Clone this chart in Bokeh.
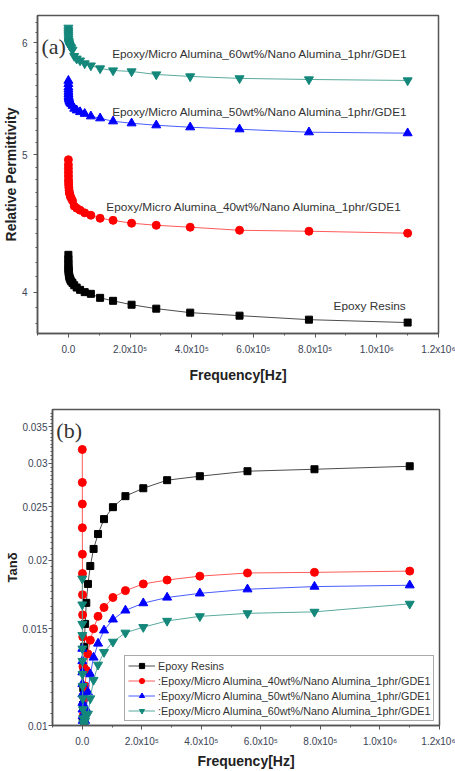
import math
from bokeh.plotting import figure
from bokeh.layouts import column
from bokeh.models import FixedTicker, Range1d, Label, Legend, LegendItem, Title
from bokeh.embed import file_html
from bokeh.resources import INLINE

NAN = float("nan")

# Measurement frequencies [Hz]
freq = [100, 150, 210, 300, 420, 600, 850, 1200, 1700, 2400, 3400, 4800, 6800, 9600,
        13500, 19000, 27000, 38000, 53000, 73000, 103000, 145000, 205000, 285000,
        395000, 555000, 780000, 1100000]

# Relative permittivity
perm_epoxy = [4.25, 4.22, 4.20, 4.18, 4.16, 4.15, 4.14, 4.13, 4.12, 4.11, 4.10, 4.09, 4.08, 4.07,
              4.06, 4.045, 4.03, 4.015, 4.00, 3.989, 3.963, 3.944, 3.919, 3.894,
              3.869, 3.850, 3.825, 3.807]
perm_40 = [4.96, 4.92, 4.89, 4.86, 4.83, 4.80, 4.78, 4.76, 4.74, 4.72, 4.70, 4.69, 4.67, 4.66,
           4.64, 4.60, 4.585, 4.57, 4.55, 4.532, 4.510, 4.495, 4.474, 4.459,
           4.445, 4.423, 4.416, 4.402]
perm_50 = [5.64, 5.61, 5.58, 5.56, 5.54, 5.52, 5.50, 5.49, 5.48, 5.47, 5.46, 5.45, 5.44, 5.43,
           5.415, 5.39, 5.375, 5.36, 5.345, 5.323, 5.306, 5.280, 5.263, 5.246,
           5.229, 5.212, 5.187, 5.179]
perm_60 = [6.146, 6.12, 6.10, 6.08, 6.06, 6.04, 6.02, 6.01, 6.00, 5.99, 5.98, 5.97, 5.96, 5.95,
           5.93, 5.87, 5.845, 5.827, 5.80, 5.78, 5.753, 5.734, 5.725, 5.697,
           5.679, 5.661, 5.651, 5.642]

# Dissipation factor (tan delta)
tan_epoxy = [NAN, NAN, NAN, NAN, NAN, NAN, NAN, NAN, 0.0103, 0.0109, 0.0117, 0.01269, 0.01391, 0.01531,
             0.01672, 0.0181, 0.01951, 0.02096, 0.02231, 0.02375, 0.02497, 0.02615, 0.02703, 0.02796,
             0.02843, 0.02903, 0.02927, 0.02964]
tan_40 = [0.0318, 0.0277, 0.0253, 0.0229, 0.0205, 0.0189, 0.0173, 0.0159, 0.0145, 0.0128, 0.0113, 0.0105, 0.0112, 0.0118,
          0.0126, 0.0135, 0.0143, 0.0150, 0.0158, 0.0164, 0.0171, 0.0176, 0.0181, 0.0184,
          0.0187, 0.01895, 0.0190, 0.0191]
tan_50 = [0.0138, 0.0131, 0.0125, 0.0119, 0.0114, 0.0110, 0.0107, 0.0104, 0.0102, 0.0100, 0.0099, 0.0099, 0.0101, 0.0102,
          0.0107, 0.0115, 0.0124, 0.0133, 0.0141, 0.0149, 0.0156, 0.0162, 0.0167, 0.0171,
          0.0174, 0.0177, 0.0179, 0.0180]
tan_60 = [0.0185, 0.0166, 0.0153, 0.0146, 0.0138, 0.0131, 0.0124, 0.0118, 0.0112, 0.0107, 0.0103, 0.0101, 0.0100, 0.0102,
          0.0104, 0.0105, 0.0112, 0.0121, 0.0129, 0.0136, 0.0142, 0.01475, 0.0151, 0.0155,
          0.0158, 0.0160, 0.0161, 0.01665]

series_names = ["Epoxy Resins",
                "Epoxy/Micro Alumina_40wt%/Nano Alumina_1phr/GDE1",
                "Epoxy/Micro Alumina_50wt%/Nano Alumina_1phr/GDE1",
                "Epoxy/Micro Alumina_60wt%/Nano Alumina_1phr/GDE1"]

x_ticks = [0, 200000, 400000, 600000, 800000, 1000000, 1200000]
x_tick_labels = ["0.0", "2.0x10\u2075", "4.0x10\u2075", "6.0x10\u2075", "8.0x10\u2075", "1.0x10\u2076", "1.2x10\u2076"]
x_minor = [-100000, 100000, 300000, 500000, 700000, 900000, 1100000]

perm_ticks = [4, 5, 6]
perm_tick_labels = ["4", "5", "6"]
perm_minor = [3.8, 3.9, 4.1, 4.2, 4.3, 4.4, 4.5, 4.6, 4.7, 4.8, 4.9,
              5.1, 5.2, 5.3, 5.4, 5.5, 5.6, 5.7, 5.8, 5.9, 6.1, 6.2]

tan_ticks = [0.01, 0.015, 0.02, 0.025, 0.03, 0.035]
tan_tick_labels = ["0.01", "0.015", "0.02", "0.025", "0.03", "0.035"]
tan_minor = [0.0105, 0.011, 0.0115, 0.012, 0.0125, 0.013, 0.0135, 0.014, 0.0145,
             0.0155, 0.016, 0.0165, 0.017, 0.0175, 0.018, 0.0185, 0.019, 0.0195,
             0.0205, 0.021, 0.0215, 0.022, 0.0225, 0.023, 0.0235, 0.024, 0.0245,
             0.0255, 0.026, 0.0265, 0.027, 0.0275, 0.028, 0.0285, 0.029, 0.0295,
             0.0305, 0.031, 0.0315, 0.032, 0.0325, 0.033, 0.0335, 0.034, 0.0345, 0.0355, 0.036, 0.0365, 0.037]

SANS = "Liberation Sans"
SERIF = "Liberation Serif"
TICK_COLOR = "#3b4456"
FRAME = "#555555"

styles = [
    dict(marker="square", size=7, color="#000000", line="#4d4d4d"),
    dict(marker="circle", size=8, color="#ff0000", line="#ff5a5a"),
    dict(marker="triangle", size=9, color="#0000ff", line="#4a5cff"),
    dict(marker="inverted_triangle", size=9, color="#13877a", line="#5aaa9e"),
]


def style_axes(p, yticks, ylabels, yminor, xlab_stand, ylab_text, ylab_stand, ytitle_size):
    p.xaxis.ticker = FixedTicker(ticks=x_ticks, minor_ticks=x_minor)
    p.xaxis.major_label_overrides = {t: s for t, s in zip(x_ticks, x_tick_labels)}
    p.yaxis.ticker = FixedTicker(ticks=yticks, minor_ticks=yminor)
    p.yaxis.major_label_overrides = {t: s for t, s in zip(yticks, ylabels)}
    for ax in (p.xaxis[0], p.yaxis[0]):
        ax.axis_line_color = FRAME
        ax.axis_line_width = 1.5
        ax.major_tick_line_color = FRAME
        ax.minor_tick_line_color = FRAME
        ax.major_tick_in = 0
        ax.minor_tick_in = 0
        ax.major_tick_out = 4
        ax.minor_tick_out = 2
        ax.major_label_text_font = SANS
        ax.major_label_text_color = TICK_COLOR
    p.xaxis.major_label_text_font_size = "10px"
    p.yaxis.major_label_text_font_size = "10px"
    p.xaxis.axis_label = "Frequency[Hz]"
    p.xaxis.axis_label_text_font = SANS
    p.xaxis.axis_label_text_font_style = "bold"
    p.xaxis.axis_label_text_color = "#222222"
    p.xaxis.axis_label_text_font_size = "14px"
    p.xaxis.major_label_standoff = 6
    p.xaxis.axis_label_standoff = xlab_stand
    p.yaxis.major_label_standoff = ylab_stand
    p.grid.visible = False
    p.outline_line_color = FRAME
    p.outline_line_width = 1.5
    try:
        p.frame_align = False
    except Exception:
        pass
    p.add_layout(Title(text=ylab_text, align="center", text_font=SANS, text_font_style="bold",
                       text_font_size=ytitle_size, text_color="#222222", standoff=0, offset=0), "left")


# ---- (a) relative permittivity ----
pa = figure(width=455, height=385, y_axis_type="log",
            x_range=Range1d(-100000, 1200000), y_range=Range1d(3.74, 6.27),
            output_backend="svg", toolbar_location=None,
            min_border_left=35, min_border_right=17, min_border_top=15, min_border_bottom=52)
style_axes(pa, perm_ticks, perm_tick_labels, perm_minor, 9, "Relative Permittivity", 6, "14px")

for vals, st in zip([perm_epoxy, perm_40, perm_50, perm_60], styles):
    pa.line(freq, vals, line_color=st["line"], line_width=1)
    pa.scatter(freq, vals, marker=st["marker"], size=st["size"],
               fill_color=st["color"], line_color=st["color"])

label_pos_a = [(860000, 3.912), (123000, 4.59), (142000, 5.357), (142000, 5.894)]
for name, (lx, ly) in zip(series_names, label_pos_a):
    pa.add_layout(Label(x=lx, y=ly, text=name, text_font=SANS, text_font_size="11.8px",
                        text_color="#333333", text_baseline="middle"))
pa.add_layout(Label(x=-87000, y=5.96, text="(a)", text_font=SERIF, text_font_size="22px",
                    text_color="#333333", text_baseline="middle"))

# ---- (b) dissipation factor ----
pb = figure(width=455, height=386, y_axis_type="log",
            x_range=Range1d(-100000, 1200000), y_range=Range1d(0.01, 0.0376),
            output_backend="svg", toolbar_location=None,
            min_border_left=52, min_border_right=16, min_border_top=24, min_border_bottom=45)
style_axes(pb, tan_ticks, tan_tick_labels, tan_minor, 3, "Tan\u03b4", 1, "13px")

items = []
legend_labels = ["Epoxy Resins"] + [":" + n for n in series_names[1:]]
for vals, st, lab in zip([tan_epoxy, tan_40, tan_50, tan_60], styles, legend_labels):
    ln = pb.line(freq, vals, line_color=st["line"], line_width=1)
    sc = pb.scatter(freq, vals, marker=st["marker"], size=st["size"],
                    fill_color=st["color"], line_color=st["color"])
    items.append(LegendItem(label=lab, renderers=[ln, sc]))

legend = Legend(items=items, location=(72, 4), border_line_color=FRAME, border_line_width=1,
                label_text_font=SANS, label_text_font_size="10.8px", label_text_color="#333333",
                glyph_width=27, glyph_height=13, label_height=13, spacing=2, padding=3,
                margin=0, label_standoff=3, background_fill_alpha=1)
pb.add_layout(legend)
pb.add_layout(Label(x=-87000, y=0.03445, text="(b)", text_font=SERIF, text_font_size="22px",
                    text_color="#333333", text_baseline="middle"))

layout = column(pa, pb, spacing=0)
open("out.html", "w").write(file_html(layout, INLINE))
